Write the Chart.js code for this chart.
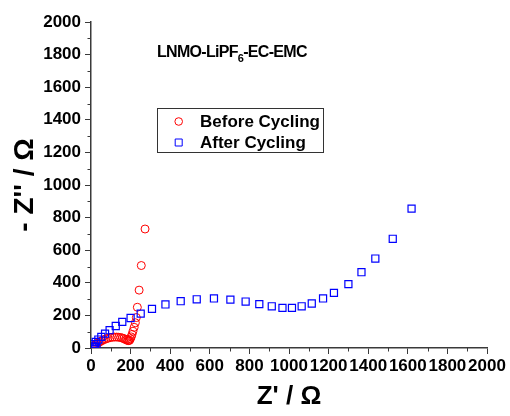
<!DOCTYPE html>
<html>
<head>
<meta charset="utf-8">
<script src="https://cdn.jsdelivr.net/npm/chart.js@4.4.1/dist/chart.umd.min.js"></script>
<style>
  body { margin: 0; background: #fff; }
  #wrap { position: relative; width: 510px; height: 416px; }
  #note {
    position: absolute; left: 157px; top: 44px;
    font: bold 16px "Liberation Sans", Arial, sans-serif;
    letter-spacing: -0.7px; line-height: 1; color: #000; white-space: nowrap;
  }
  #note sub { font-size: 11px; vertical-align: -5px; }
</style>
</head>
<body>
<div id="wrap">
  <canvas id="nyquist" width="510" height="416"></canvas>
  <div id="note">LNMO-LiPF<sub>6</sub>-EC-EMC</div>
</div>
<script>
// Series data (Z' and -Z'' in ohm)
const beforeRe = [10, 15, 22, 30, 38, 46, 55, 65, 75, 86, 97, 108, 119, 130, 140, 150, 159, 167, 174, 180, 186, 191, 195, 199, 203, 207, 212, 218, 224, 229, 234, 243, 254, 273];
const beforeIm = [5, 12, 20, 27, 33, 39, 45, 51, 56, 60, 64, 66, 67, 67, 66, 64, 61, 57, 53, 49, 46, 45, 48, 56, 68, 83, 103, 127, 155, 187, 250, 355, 506, 730];

const afterRe = [28, 20, 7, 14, 24, 37, 52, 71, 94, 125, 158, 200, 251, 308, 376, 453, 534, 621, 704, 781, 850, 913, 967, 1015, 1064, 1115, 1172, 1227, 1300, 1366, 1436, 1524, 1619];
const afterIm = [3, 6, 10, 23, 37, 52, 68, 88, 109, 135, 160, 184, 211, 240, 267, 287, 299, 304, 297, 285, 269, 256, 246, 246, 256, 273, 304, 338, 392, 465, 549, 670, 855];

const seriesNames = ['Before Cycling', 'After Cycling'];
const axisMin = 0;
const axisMax = 2000;
const majorStep = 200;
const minorStep = 100;

const FONT = '"Liberation Sans", Arial, sans-serif';
const AXIS_COLOR = '#3a3a3a';

function toPoints(xs, ys) {
    return xs.map((x, i) => ({ x: x, y: ys[i] }));
}

/** Short minor ticks between the labelled ones */
const minorTicks = {
    id: 'minorTicks',
    afterDraw(chart) {
        const ctx = chart.ctx;
        const sx = chart.scales.x;
        const sy = chart.scales.y;
        ctx.save();
        ctx.strokeStyle = AXIS_COLOR;
        ctx.lineWidth = 1;
        for (let v = axisMin + minorStep; v < axisMax; v += majorStep) {
            const px = Math.round(sx.getPixelForValue(v)) + 0.5;
            ctx.beginPath();
            ctx.moveTo(px, sx.top);
            ctx.lineTo(px, sx.top + 3.5);
            ctx.stroke();
            const py = Math.round(sy.getPixelForValue(v)) + 0.5;
            ctx.beginPath();
            ctx.moveTo(sy.right, py);
            ctx.lineTo(sy.right - 3.5, py);
            ctx.stroke();
        }
        ctx.restore();
    }
};

/** Boxed legend inside the plot */
const boxLegend = {
    id: 'boxLegend',
    afterDraw(chart) {
        const ctx = chart.ctx;
        ctx.save();
        ctx.strokeStyle = '#333';
        ctx.lineWidth = 1;
        ctx.strokeRect(157.5, 108.5, 166, 44);
        const rows = [121.5, 142.5];
        chart.data.datasets.forEach((ds, i) => {
            const y = rows[i];
            ctx.strokeStyle = ds.borderColor;
            ctx.lineWidth = 1;
            ctx.beginPath();
            if (ds.pointStyle === 'circle') {
                ctx.arc(178.7, y, 3.8, 0, Math.PI * 2);
            } else {
                ctx.rect(175.2, y - 3.5, 7, 7);
            }
            ctx.stroke();
            ctx.fillStyle = '#000';
            ctx.font = 'bold 17px ' + FONT;
            ctx.textBaseline = 'middle';
            ctx.fillText(ds.label, 200, y + 1);
        });
        ctx.restore();
    }
};

const ctx = document.getElementById('nyquist').getContext('2d');

new Chart(ctx, {
    type: 'scatter',
    data: {
        datasets: [{
            label: seriesNames[0],
            data: toPoints(beforeRe, beforeIm),
            pointStyle: 'circle',
            pointRadius: 4,
            borderColor: '#ff0000',
            backgroundColor: 'rgba(0,0,0,0)',
            borderWidth: 1,
            order: 1
        }, {
            label: seriesNames[1],
            data: toPoints(afterRe, afterIm),
            pointStyle: 'rect',
            pointRadius: 5,
            borderColor: '#0000ff',
            backgroundColor: 'rgba(0,0,0,0)',
            borderWidth: 1.2,
            order: 0
        }]
    },
    options: {
        responsive: false,
        animation: false,
        layout: { padding: { left: 0, top: 22, right: 23, bottom: 0 } },
        plugins: {
            legend: { display: false },
            tooltip: { enabled: false }
        },
        scales: {
            x: {
                type: 'linear',
                min: axisMin,
                max: axisMax,
                afterFit: s => { s.height = 68; },
                border: { color: AXIS_COLOR, width: 1.5 },
                grid: { drawOnChartArea: false, tickLength: 6, color: AXIS_COLOR },
                ticks: {
                    stepSize: majorStep,
                    autoSkip: false,
                    maxRotation: 0,
                    minRotation: 0,
                    padding: 2,
                    color: '#000',
                    font: { family: FONT, size: 17, weight: 'bold' },
                    callback: v => String(v)
                },
                title: {
                    display: true,
                    text: "Z' / Ω",
                    color: '#000',
                    font: { family: FONT, size: 26, weight: 'bold' }
                }
            },
            y: {
                type: 'linear',
                min: axisMin,
                max: axisMax,
                afterFit: s => { s.width = 91; },
                border: { color: AXIS_COLOR, width: 1.5 },
                grid: { drawOnChartArea: false, tickLength: 6, color: AXIS_COLOR },
                ticks: {
                    stepSize: majorStep,
                    padding: 4,
                    color: '#000',
                    font: { family: FONT, size: 17, weight: 'bold' },
                    callback: v => String(v)
                },
                title: {
                    display: true,
                    text: "- Z'' / Ω",
                    color: '#000',
                    font: { family: FONT, size: 28, weight: 'bold', lineHeight: 1.5 }
                }
            }
        }
    },
    plugins: [minorTicks, boxLegend]
});
</script>
</body>
</html>
